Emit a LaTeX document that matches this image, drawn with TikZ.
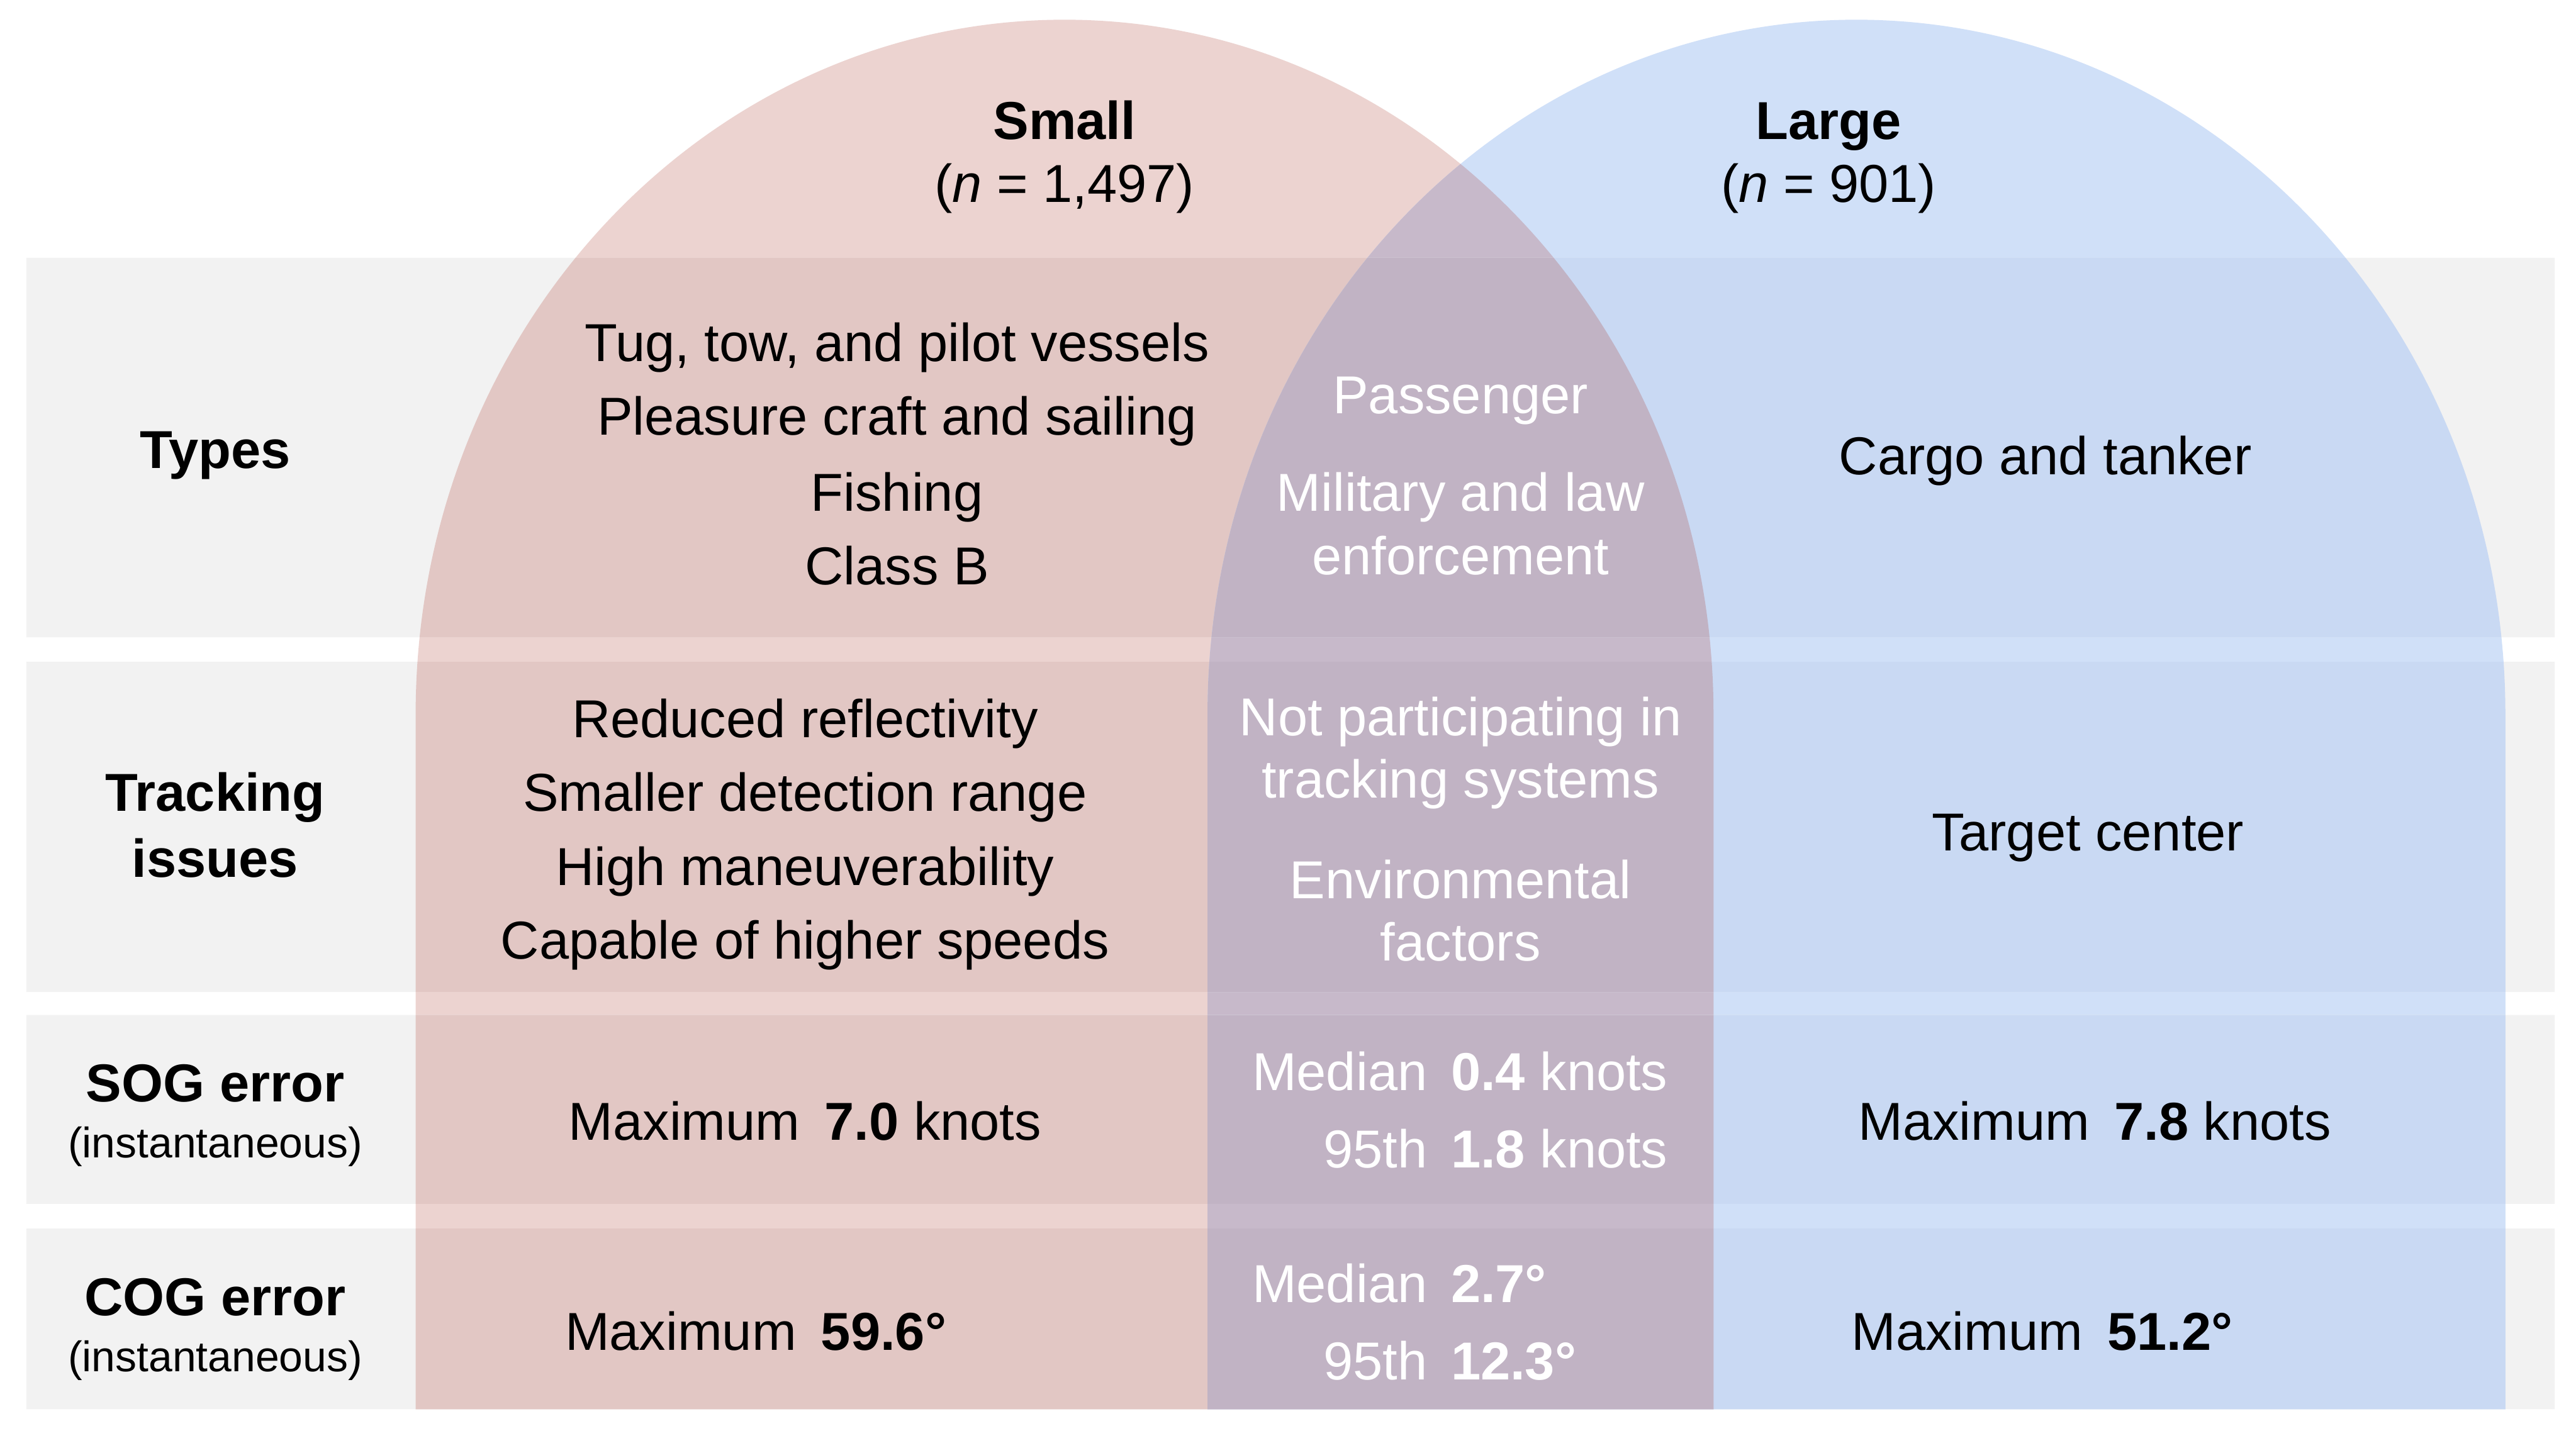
\documentclass[tikz,border=0pt]{standalone}
\usepackage{fontspec}
\setmainfont{Liberation Sans}
\definecolor{rowgrey}{RGB}{242,242,242}
\definecolor{pinkw}{RGB}{236,211,208}
\definecolor{pinkg}{RGB}{226,199,196}
\definecolor{bluew}{RGB}{208,224,248}
\definecolor{blueg}{RGB}{201,217,243}
\definecolor{overw}{RGB}{199,185,202}
\definecolor{overg}{RGB}{193,179,196}
\tikzset{
  txt/.style={anchor=base, inner sep=0pt, font=\fontsize{32.5}{39}\selectfont},
  hdr/.style={txt, font=\fontsize{32.5}{39}\selectfont\bfseries},
  subtxt/.style={anchor=base, inner sep=0pt, font=\fontsize{26}{30}\selectfont},
  wtxt/.style={txt, text=white},
}
\newcommand{\pinkarch}{(253,858) -- (253,435) arc[start angle=180,end angle=0,x radius=395pt,y radius=423pt] -- (1043,858) -- cycle}
\newcommand{\bluearch}{(735,858) -- (735,435) arc[start angle=180,end angle=0,x radius=395pt,y radius=423pt] -- (1525,858) -- cycle}
\newcommand{\gapw}{\hspace{15pt}}
\begin{document}
\begin{tikzpicture}[x=1pt,y=-1pt]
\useasboundingbox (0,0) rectangle (1568,871);
\fill[white] (0,0) rectangle (1568,871);
% arches on white
\fill[pinkw] \pinkarch;
\fill[bluew] \bluearch;
\begin{scope}
  \clip \pinkarch;
  \fill[overw] \bluearch;
\end{scope}
% row bands
\begin{scope}
  \clip (16,157) rectangle (1555,388)
        (16,403) rectangle (1555,604)
        (16,618) rectangle (1555,733)
        (16,748) rectangle (1555,858);
  \fill[rowgrey] (0,0) rectangle (1568,871);
  \fill[pinkg] \pinkarch;
  \fill[blueg] \bluearch;
  \begin{scope}
    \clip \pinkarch;
    \fill[overg] \bluearch;
  \end{scope}
\end{scope}
% headers
\node[hdr] (small) at (648,85) {Small};
\node[txt] (smalln) at (648,123) {(\textit{n} = 1,497)};
\node[hdr] (large) at (1113,85) {Large};
\node[txt] (largen) at (1113,123) {(\textit{n} = 901)};
% row labels
\node[hdr] (types) at (131,285) {Types};
\node[hdr] (track1) at (131,494) {Tracking};
\node[hdr] (track2) at (131,534) {issues};
\node[hdr] (sog) at (131,671) {SOG error};
\node[subtxt] (sogsub) at (131,705) {(instantaneous)};
\node[hdr] (cog) at (131,801) {COG error};
\node[subtxt] (cogsub) at (131,835) {(instantaneous)};
% types
\node[txt] (ty1) at (546,220) {Tug, tow, and pilot vessels};
\node[txt] (ty2) at (546,265) {Pleasure craft and sailing};
\node[txt] (ty3) at (546,311) {Fishing};
\node[txt] (ty4) at (546,356) {Class B};
\node[wtxt] (tb1) at (889,252) {Passenger};
\node[wtxt] (tb2) at (889,311) {Military and law};
\node[wtxt] (tb3) at (889,350) {enforcement};
\node[txt] (tl1) at (1245,289) {Cargo and tanker};
% tracking issues
\node[txt] (is1) at (490,449) {Reduced reflectivity};
\node[txt] (is2) at (490,494) {Smaller detection range};
\node[txt] (is3) at (490,539) {High maneuverability};
\node[txt] (is4) at (490,584) {Capable of higher speeds};
\node[wtxt] (ib1) at (889,448) {Not participating in};
\node[wtxt] (ib2) at (889,486) {tracking systems};
\node[wtxt] (ib3) at (889,547) {Environmental};
\node[wtxt] (ib4) at (889,585) {factors};
\node[txt] (il1) at (1271,518) {Target center};
% SOG
\node[txt] (sogs) at (490,694) {Maximum\gapw\textbf{7.0} knots};
\node[wtxt, anchor=base east] (sogml) at (869,664) {Median};
\node[wtxt, anchor=base west] (sogmv) at (883,664) {\textbf{0.4} knots};
\node[wtxt, anchor=base east] (sogpl) at (869,711) {95th};
\node[wtxt, anchor=base west] (sogpv) at (883,711) {\textbf{1.8} knots};
\node[txt] (sogl) at (1275,694) {Maximum\gapw\textbf{7.8} knots};
% COG
\node[txt] (cogs) at (460,822) {Maximum\gapw\textbf{59.6°}};
\node[wtxt, anchor=base east] (cogml) at (869,793) {Median};
\node[wtxt, anchor=base west] (cogmv) at (883,793) {\textbf{2.7°}};
\node[wtxt, anchor=base east] (cogpl) at (869,840) {95th};
\node[wtxt, anchor=base west] (cogpv) at (883,840) {\textbf{12.3°}};
\node[txt] (cogl) at (1243,822) {Maximum\gapw\textbf{51.2°}};
\end{tikzpicture}
\end{document}
